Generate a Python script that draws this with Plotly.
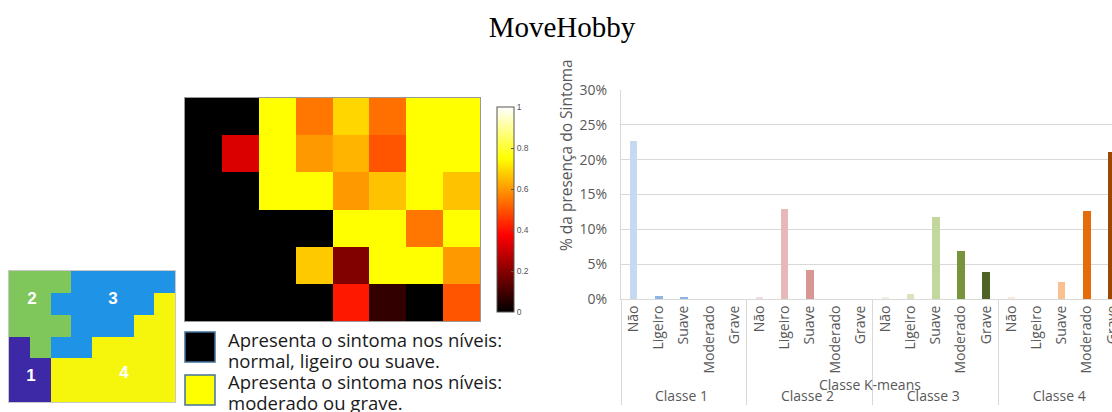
import plotly.graph_objects as go

W, H = 1112, 412

# ---------------- data ----------------
title_text = "MoveHobby"

# cluster map (8 x 6), values = K-means class
cluster_grid = [
    [2, 2, 2, 3, 3, 3, 3, 3],
    [2, 2, 3, 3, 3, 3, 3, 4],
    [2, 2, 2, 3, 3, 3, 4, 4],
    [1, 2, 3, 3, 4, 4, 4, 4],
    [1, 1, 4, 4, 4, 4, 4, 4],
    [1, 1, 4, 4, 4, 4, 4, 4],
]
cluster_labels = ["1", "2", "3", "4"]
cluster_label_col = [0.56, 0.61, 4.51, 5.04]
cluster_label_row = [4.36, 0.83, 0.83, 4.22]
cluster_colors = ["#3d28a6", "#7fc65b", "#1f93e6", "#f6f60c"]

# SOM component plane (hot colormap), 8 x 6
hot_grid = [
    [0.00, 0.00, 0.75, 0.55, 0.69, 0.54, 0.75, 0.75],
    [0.00, 0.32, 0.75, 0.60, 0.64, 0.50, 0.75, 0.75],
    [0.00, 0.00, 0.75, 0.75, 0.60, 0.66, 0.75, 0.66],
    [0.00, 0.00, 0.00, 0.00, 0.75, 0.75, 0.55, 0.75],
    [0.00, 0.00, 0.00, 0.67, 0.19, 0.75, 0.75, 0.60],
    [0.00, 0.00, 0.00, 0.00, 0.41, 0.075, 0.00, 0.50],
]
colorbar_ticks = [0, 0.2, 0.4, 0.6, 0.8, 1]
colorbar_ticktext = ["0", "0.2", "0.4", "0.6", "0.8", "1"]

legend_texts = [
    "Apresenta o sintoma nos níveis:",
    "normal, ligeiro ou suave.",
    "Apresenta o sintoma nos níveis:",
    "moderado ou grave.",
]

# bar chart
classes = ["Classe 1", "Classe 2", "Classe 3", "Classe 4"]
levels = ["Não", "Ligeiro", "Suave", "Moderado", "Grave"]
pct_classe1 = [22.7, 0.4, 0.25, 0.0, 0.0]
pct_classe2 = [0.15, 12.9, 4.2, 0.0, 0.0]
pct_classe3 = [0.2, 0.65, 11.8, 6.9, 3.9]
pct_classe4 = [0.2, 0.0, 2.4, 12.6, 21.1]
colors_classe1 = ["#c6d9f1", "#8eb4e3", "#8eb4e3", "#4f81bd", "#1f4e79"]
colors_classe2 = ["#f2dcdb", "#e6b9b8", "#d99694", "#c0504d", "#953735"]
colors_classe3 = ["#ebf1de", "#d7e4bd", "#c3d69b", "#77933c", "#4f6228"]
colors_classe4 = ["#fde9d9", "#fcd5b5", "#fac090", "#e46c0a", "#984807"]
y_ticks = [0, 0.05, 0.10, 0.15, 0.20, 0.25, 0.30]

# ---------------- helpers (window pixels -> paper) ----------------
def px_x(p):
    return p / W

def px_y(p):
    return 1 - p / H

fig = go.Figure()

# ---------------- bar chart ----------------
all_pct = pct_classe1 + pct_classe2 + pct_classe3 + pct_classe4
all_cols = colors_classe1 + colors_classe2 + colors_classe3 + colors_classe4
x_outer = [c for c in classes for _ in levels]
x_inner = levels * len(classes)

fig.add_trace(go.Bar(
    x=[x_outer, x_inner],
    y=[v / 100 for v in all_pct],
    marker=dict(color=all_cols, line=dict(width=0)),
    width=0.3,
    xaxis="x", yaxis="y",
    showlegend=False,
))

# ---------------- cluster map ----------------
n_cl = len(cluster_colors)
cscale = []
for i, c in enumerate(cluster_colors):
    cscale.append([i / n_cl, c])
    cscale.append([(i + 1) / n_cl, c])

fig.add_trace(go.Heatmap(
    z=cluster_grid, colorscale=cscale, zmin=0.5, zmax=4.5,
    showscale=False, xaxis="x2", yaxis="y2", hoverinfo="skip",
))

fig.add_trace(go.Scatter(
    x=cluster_label_col, y=cluster_label_row, text=cluster_labels,
    mode="text", textposition="middle center",
    textfont=dict(family="Liberation Sans", size=17, color="white", weight="bold"),
    xaxis="x2", yaxis="y2", showlegend=False, hoverinfo="skip",
))

# ---------------- hot heatmap ----------------
hot_scale = [[0, "#000000"], [0.375, "#ff0000"], [0.75, "#ffff00"], [1, "#ffffff"]]
fig.add_trace(go.Heatmap(
    z=hot_grid, colorscale=hot_scale, zmin=0, zmax=1,
    xaxis="x3", yaxis="y3", hoverinfo="skip",
    colorbar=dict(
        x=px_x(497), xanchor="left", xref="paper",
        y=px_y(209.5), yanchor="middle", yref="paper",
        thickness=17, thicknessmode="pixels",
        len=205, lenmode="pixels",
        outlinewidth=1, outlinecolor="#555555",
        tickvals=colorbar_ticks, ticktext=colorbar_ticktext,
        ticks="inside", ticklen=3, tickcolor="#555555",
        tickfont=dict(family="Liberation Sans", size=8.5, color="#555555"),
        ypad=0, xpad=0,
    ),
))

# ---------------- layout ----------------
axis_font = dict(family="Open Sans", size=14, color="#595959")

fig.update_layout(
    width=W, height=H,
    margin=dict(l=0, r=0, t=0, b=0, pad=0, autoexpand=False),
    paper_bgcolor="white", plot_bgcolor="white",
    font=dict(family="Open Sans", color="#595959"),
    title=dict(text=title_text, x=px_x(562), xanchor="center", xref="paper",
               y=px_y(27), yanchor="middle", yref="paper",
               font=dict(family="Liberation Serif", size=29, color="black")),
    bargap=0,
    xaxis=dict(
        domain=[px_x(621), 1.0], anchor="y", automargin=False,
        type="multicategory",
        range=[-0.5, 19.0],
        tickangle=-90, tickfont=axis_font,
        showdividers=True, dividercolor="#d9d9d9", dividerwidth=1,
        showline=True, linecolor="#d9d9d9", linewidth=1,
        showgrid=False, ticks="",
    ),
    yaxis=dict(
        domain=[px_y(299), px_y(90)], anchor="x", automargin=False,
        range=[0, 0.30], tickvals=y_ticks, tickformat=".0%",
        tickfont=axis_font, gridcolor="#d9d9d9", gridwidth=1,
        showline=True, linecolor="#d9d9d9", zeroline=False,
        ticks="", ticklabelstandoff=10,
    ),
    xaxis2=dict(domain=[px_x(9), px_x(175)], anchor="y2", automargin=False,
                showticklabels=False, showgrid=False, zeroline=False,
                showline=True, mirror=True, linecolor="#c8c8c8",
                range=[-0.5, 7.5]),
    yaxis2=dict(domain=[px_y(402), px_y(271)], anchor="x2", automargin=False,
                showticklabels=False, showgrid=False, zeroline=False,
                showline=True, mirror=True, linecolor="#c8c8c8",
                range=[5.5, -0.5]),
    xaxis3=dict(domain=[px_x(185), px_x(480)], anchor="y3", automargin=False,
                showticklabels=False, showgrid=False, zeroline=False,
                showline=True, mirror=True, linecolor="#999999",
                range=[-0.5, 7.5]),
    yaxis3=dict(domain=[px_y(321), px_y(98)], anchor="x3", automargin=False,
                showticklabels=False, showgrid=False, zeroline=False,
                showline=True, mirror=True, linecolor="#999999",
                range=[5.5, -0.5]),
)

# y-axis title and x-axis title (annotations for exact placement)
fig.add_annotation(text="% da presença do Sintoma", xref="paper", yref="paper",
                   x=px_x(566), y=px_y(155), textangle=-90,
                   xanchor="center", yanchor="middle", showarrow=False,
                   font=dict(family="Open Sans", size=15.5, color="#595959"))
fig.add_annotation(text="Classe K-means", xref="paper", yref="paper",
                   x=px_x(870), y=px_y(384), xanchor="center", yanchor="middle",
                   showarrow=False,
                   font=dict(family="Open Sans", size=14, color="#595959"))

# legend boxes
fig.add_shape(type="rect", xref="paper", yref="paper",
              x0=px_x(185), x1=px_x(215), y0=px_y(362), y1=px_y(332),
              fillcolor="#000000", line=dict(color="#41719c", width=1.5))
fig.add_shape(type="rect", xref="paper", yref="paper",
              x0=px_x(185), x1=px_x(215), y0=px_y(405), y1=px_y(375),
              fillcolor="#ffff00", line=dict(color="#41719c", width=1.5))

legend_y = [339.5, 360.5, 381, 402]
for t, yy in zip(legend_texts, legend_y):
    fig.add_annotation(text=t, xref="paper", yref="paper",
                       x=px_x(226), y=px_y(yy), xanchor="left", yanchor="middle",
                       showarrow=False,
                       font=dict(family="Open Sans", size=18.5, color="#1a1a1a"))

# remove the default page margin so the figure fills the 1112x412 window exactly
fig.write_html("out.html",
               config={"displayModeBar": False},
               post_script="document.body.style.margin='0';"
                           "document.body.style.overflow='hidden';")
